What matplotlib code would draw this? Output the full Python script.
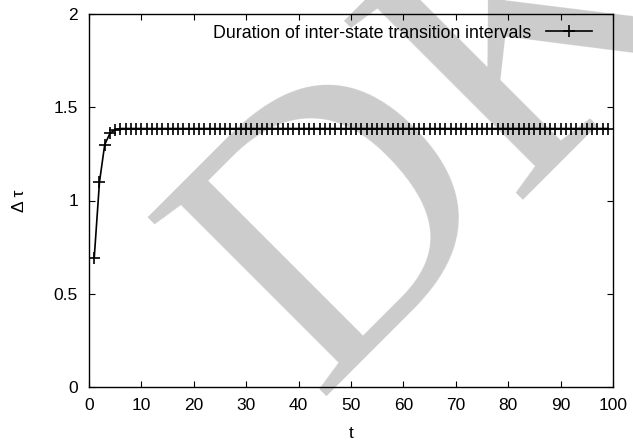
import numpy as np
import matplotlib.pyplot as plt

plt.rcParams['font.family'] = ['Liberation Sans', 'DejaVu Sans']

t = np.arange(1, 100)
head = [0.693, 1.099, 1.30, 1.36, 1.38]
dtau = np.array(head + [1.386] * (len(t) - len(head)))

fig = plt.figure(figsize=(6.33, 4.41), dpi=100)
ax = fig.add_axes([89 / 633, 1 - 387 / 441, (613 - 89) / 633, (387 - 14) / 441])
ax.patch.set_alpha(0)

# watermark
fig.text(0.707, 0.697, "DK", fontsize=278, family='Liberation Serif', color='#cccccc',
         rotation=45, ha='center', va='center', rotation_mode='anchor', zorder=-10)

ax.plot(t, dtau, color='black', lw=1.2, marker='+', ms=8, mew=1.2,
        label='Duration of inter-state transition intervals')

ax.set_xlim(0, 100)
ax.set_ylim(0, 2)
ax.set_xticks(np.arange(0, 101, 10))
ax.set_yticks([0, 0.5, 1, 1.5, 2])
ax.set_yticklabels(['0', '0.5', '1', '1.5', '2'])
ax.tick_params(direction='in', top=True, right=True, length=4, labelsize=12.5, pad=8)
for s in ax.spines.values():
    s.set_linewidth(1.0)

ax.set_xlabel('t', fontsize=12.5, labelpad=9)
ax.set_ylabel('Δ τ', fontsize=12.5, labelpad=19)

ax.legend(loc='upper right', frameon=False, markerfirst=False, fontsize=12.8,
          handlelength=2.6, handletextpad=0.8, borderaxespad=0.2,
          bbox_to_anchor=(0.98, 1.0))

fig.savefig('out.png', dpi=100)
